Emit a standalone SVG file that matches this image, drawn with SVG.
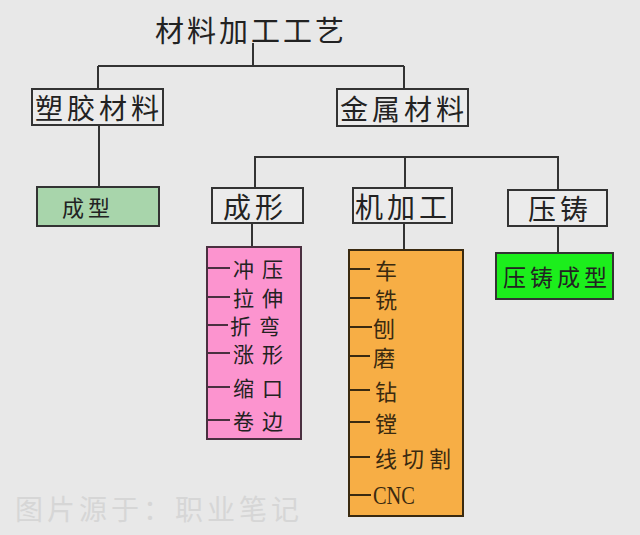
<svg xmlns="http://www.w3.org/2000/svg" width="640" height="535" viewBox="0 0 640 535">
<style>
text{font-family:"Noto Sans CJK SC","Noto Sans",sans-serif;fill:#222;dominant-baseline:central}
.box{fill:#ebebeb;stroke:#333;stroke-width:2}
.ln{stroke:#333;stroke-width:2;fill:none}
.big{font-size:28px;letter-spacing:4px}
.it{font-size:21px;letter-spacing:8px}
.ito{font-size:22px;letter-spacing:5px;fill:#3a2a10}
.dp{stroke:#4a3040;stroke-width:2}
.do{stroke:#3a2a10;stroke-width:2}
</style>
<rect width="640" height="535" fill="#e8e8e8"/>
<g id="connectors">
<path class="ln" d="M253 43V66M98 66H404M98 66V89M404 66V89"/>
<path class="ln" d="M99 125V187"/>
<path class="ln" d="M255 188V157H558V190M405 157V188"/>
<path class="ln" d="M252 223V247M404 223V250M558 226V253"/>
</g>
<g id="title"><text x="155" y="28.5" font-size="29" letter-spacing="3">材料加工工艺</text></g>
<g id="plastic"><rect class="box" x="32" y="89" width="131" height="36"/><text class="big" x="35" y="107">塑胶材料</text></g>
<g id="metal"><rect class="box" x="337" y="89" width="131" height="37"/><text class="big" x="340" y="107.5">金属材料</text></g>
<g id="plastic-forming"><rect x="37" y="187" width="122" height="39" fill="#a8d5ab" stroke="#333" stroke-width="2"/><text x="62" y="206" font-size="22" letter-spacing="4">成型</text></g>
<g id="forming"><rect class="box" x="212" y="188" width="91" height="35"/><text class="big" x="223" y="205.5">成形</text></g>
<g id="machining"><rect class="box" x="353" y="188" width="99" height="35"/><text class="big" x="355" y="205.5">机加工</text></g>
<g id="diecast"><rect class="box" x="508" y="190" width="99" height="36"/><text class="big" x="528" y="208">压铸</text></g>
<g id="diecast-forming"><rect x="496" y="253" width="117" height="46" fill="#1cee1c" stroke="#333" stroke-width="2"/><text x="503" y="276" font-size="23" letter-spacing="4">压铸成型</text></g>
<g id="forming-list">
<rect x="207" y="247" width="94" height="192" fill="#fc94cf" stroke="#4a3040" stroke-width="2"/>
<path class="dp" d="M207 268H230M207 297H230M207 325H228M207 353H230M207 387H230M207 420H230"/>
<text class="it" x="233" y="268">冲压</text>
<text class="it" x="233" y="297">拉伸</text>
<text class="it" x="230" y="325">折弯</text>
<text class="it" x="233" y="353">涨形</text>
<text class="it" x="233" y="387">缩口</text>
<text class="it" x="233" y="420">卷边</text>
</g>
<g id="machining-list">
<rect x="349" y="250" width="114" height="266" fill="#f7ae45" stroke="#3a2a10" stroke-width="2"/>
<path class="do" d="M349 269H370M349 298H370M349 327H372M349 356H370M349 390H370M349 422H370M349 457H370M349 495H371"/>
<text class="ito" x="375" y="269">车</text>
<text class="ito" x="375" y="298">铣</text>
<text class="ito" x="373" y="327">刨</text>
<text class="ito" x="373" y="356">磨</text>
<text class="ito" x="375" y="390">钻</text>
<text class="ito" x="375" y="422">镗</text>
<text class="ito" x="375" y="457">线切割</text>
<text x="373" y="495" font-size="26" textLength="42" lengthAdjust="spacingAndGlyphs" style="font-family:'Liberation Serif',serif;fill:#3a2a10">CNC</text>
</g>
<g id="watermark"><text x="15" y="508" font-size="28" letter-spacing="4" style="fill:#d6d6d6">图片源于：职业笔记</text></g>
</svg>
